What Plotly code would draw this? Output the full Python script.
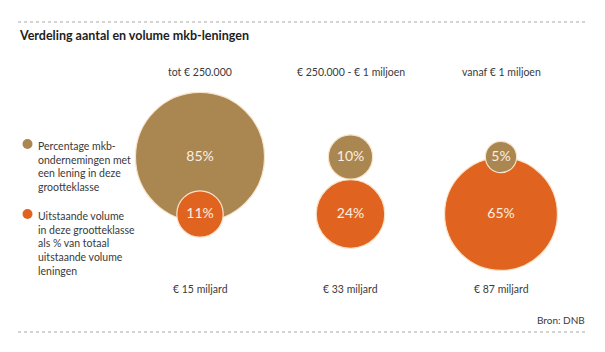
import plotly.graph_objects as go

# ---- data ----
categories = ["tot € 250.000", "€ 250.000 - € 1 miljoen", "vanaf € 1 miljoen"]
pct_firms = [85, 10, 5]          # % mkb-ondernemingen met een lening in deze grootteklasse
pct_volume = [11, 24, 65]        # uitstaande volume als % van totaal
volume_labels = ["€ 15 miljard", "€ 33 miljard", "€ 87 miljard"]
legend_firms = "Percentage mkb-<br>ondernemingen met<br>een lening in deze<br>grootteklasse"
legend_volume = "Uitstaande volume<br>in deze grootteklasse<br>als % van totaal<br>uitstaande volume<br>leningen"
title_text = "Verdeling aantal en volume mkb-leningen"
source_text = "Bron: DNB"

# ---- styles / layout constants ----
W, H = 605, 352
TAN = "#AA8651"
ORANGE = "#E0641F"
CREAM = "#FBEFE2"
TEXT = "#3a3a3a"
BODY_FONT = "Lato, 'Open Sans', sans-serif"
TITLE_FONT = "Lato, sans-serif"
ROW_FIRMS_Y = 157
ROW_VOLUME_Y = 214
HEADER_Y = 72
FOOT_Y = 289
K = 7.0  # px radius per sqrt(percent)
SIZEREF = 1.0 / (2 * K * K)

# combine circles, draw larger first so smaller ones sit on top
circles = []
for c, v in zip(categories, pct_firms):
    circles.append((c, ROW_FIRMS_Y, v, TAN))
for c, v in zip(categories, pct_volume):
    circles.append((c, ROW_VOLUME_Y, v, ORANGE))
circles.sort(key=lambda t: -t[2])

fig = go.Figure()
fig.add_trace(go.Scatter(
    x=[t[0] for t in circles],
    y=[t[1] for t in circles],
    mode="markers+text",
    text=[f"{t[2]}%" for t in circles],
    textposition="middle center",
    textfont=dict(family=BODY_FONT, size=14, color=CREAM),
    marker=dict(
        size=[t[2] for t in circles],
        sizemode="area",
        sizeref=SIZEREF,
        color=[t[3] for t in circles],
        opacity=1,
        line=dict(color="#F7E3CB", width=1.2),
    ),
    hoverinfo="skip",
    showlegend=False,
    cliponaxis=False,
))

annotations = []
for c in categories:
    annotations.append(dict(x=c, y=HEADER_Y, xref="x", yref="y", text=c, showarrow=False,
                            font=dict(family=BODY_FONT, size=10.5, color=TEXT)))
for c, lab in zip(categories, volume_labels):
    annotations.append(dict(x=c, y=FOOT_Y, xref="x", yref="y", text=lab, showarrow=False,
                            font=dict(family=BODY_FONT, size=10.5, color=TEXT)))

# title and source
annotations.append(dict(x=17 / W, y=35, xref="paper", yref="y", text=f"<b>{title_text}</b>",
                        showarrow=False, xanchor="left",
                        font=dict(family=TITLE_FONT, size=12.5, color="#1e1e1e")))
annotations.append(dict(x=587 / W, y=320, xref="paper", yref="y", text=source_text,
                        showarrow=False, xanchor="right",
                        font=dict(family=BODY_FONT, size=10, color=TEXT)))

# legend (manual)
annotations.append(dict(x=36 / W, y=138, xref="paper", yref="y", text=legend_firms,
                        showarrow=False, xanchor="left", yanchor="top", align="left",
                        font=dict(family=BODY_FONT, size=10.5, color=TEXT)))
annotations.append(dict(x=36 / W, y=208, xref="paper", yref="y", text=legend_volume,
                        showarrow=False, xanchor="left", yanchor="top", align="left",
                        font=dict(family=BODY_FONT, size=10.5, color=TEXT)))

shapes = [
    dict(type="line", xref="paper", yref="y", x0=18 / W, x1=587 / W, y0=22, y1=22,
         line=dict(color="#a8a8a8", width=1, dash="dot")),
    dict(type="line", xref="paper", yref="y", x0=18 / W, x1=587 / W, y0=332, y1=332,
         line=dict(color="#a8a8a8", width=1, dash="dot")),
    dict(type="circle", xref="paper", yref="y", x0=22.5 / W, x1=32.5 / W, y0=139, y1=149,
         fillcolor=TAN, line=dict(width=0)),
    dict(type="circle", xref="paper", yref="y", x0=22.5 / W, x1=32.5 / W, y0=209, y1=219,
         fillcolor=ORANGE, line=dict(width=0)),
]

# column centres at ~200, 350, 501 px
px_per_cat = 150.5
x0 = -200 / px_per_cat
fig.update_layout(
    width=W, height=H,
    margin=dict(l=0, r=0, t=0, b=0),
    paper_bgcolor="white", plot_bgcolor="white",
    xaxis=dict(type="category", categoryorder="array", categoryarray=categories,
               range=[x0, x0 + W / px_per_cat], visible=False, fixedrange=True),
    yaxis=dict(range=[H, 0], visible=False, fixedrange=True),
    annotations=annotations,
    shapes=shapes,
    showlegend=False,
)

fig.write_html("out.html")
